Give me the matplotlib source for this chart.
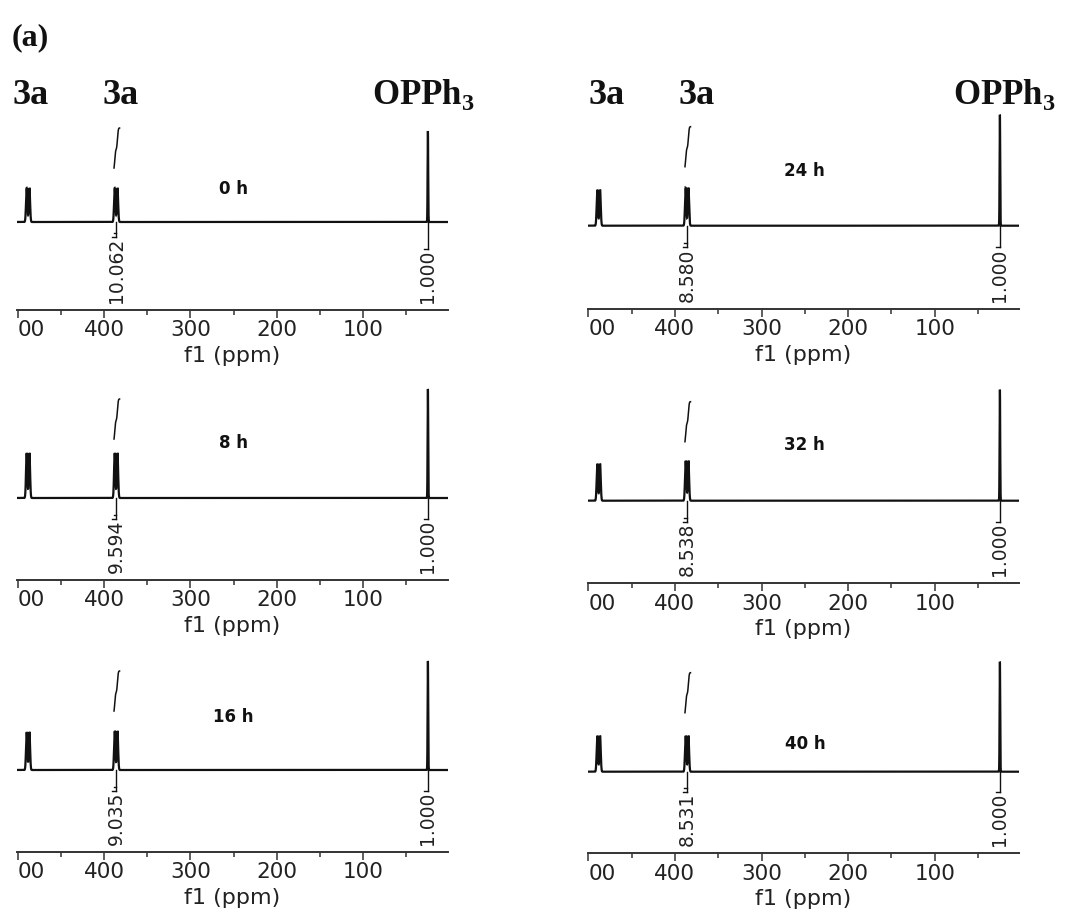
import numpy as np
import matplotlib
matplotlib.use("Agg")
import matplotlib.pyplot as plt
from matplotlib.ticker import FixedLocator

# ---- spectral data (31P NMR, reaction monitored over time) ----
times = ["0 h", "8 h", "16 h", "24 h", "32 h", "40 h"]
shift_3a_a = 488.0          # ppm, first 3a doublet
shift_3a_b = 386.0          # ppm, second 3a doublet (integrated)
shift_opph3 = 24.8          # ppm, OPPh3 internal standard
j_split = 3.2               # ppm, doublet splitting of 3a signals
height_3a_a = [34, 45, 38, 36, 37, 36]
height_3a_b = [34, 45, 39, 38, 40, 36]
height_opph3 = [91, 109, 109, 111, 111, 110]
integral_3a = [10.062, 9.594, 9.035, 8.580, 8.538, 8.531]
integral_opph3 = [1.000, 1.000, 1.000, 1.000, 1.000, 1.000]
major_ticks = [500, 400, 300, 200, 100]
major_labels = ["00", "400", "300", "200", "100"]
minor_ticks = [450, 350, 250, 150, 50]

# ---- page layout (pixels) ----
W, H, DPI = 1075, 922, 100
AX_H = 200
cols = {0: (17.0, 447.5, (500.8, 2.1)),
        1: (588.3, 1018.7, (500.0, 3.1))}
# column, y of ppm axis line, baseline height above axis line
panels = [(0, 310.0, 88.0), (0, 580.0, 82.0), (0, 852.0, 82.0),
          (1, 308.7, 83.0), (1, 583.3, 82.6), (1, 853.3, 81.6)]
time_label_y = [33, 55, 53, 55, 56, 28]
trace_lo = [54, 59, 59, 59, 59, 59]
trace_hi = [94, 99, 99, 99, 99, 99]

plt.rcParams["mathtext.fontset"] = "custom"
plt.rcParams["mathtext.rm"] = "Liberation Serif"
plt.rcParams["mathtext.bf"] = "Liberation Serif:bold"

fig = plt.figure(figsize=(W / DPI, H / DPI), dpi=DPI)


def fx(px):
    return px / W


def fy(py):
    return 1 - py / H


ppm = np.linspace(505, -5, 60001)


def line(x0, h, s):
    return h * np.exp(-0.5 * ((ppm - x0) / s) ** 2)


def doublet(x0, h, s):
    return line(x0 + j_split / 2, h, s) + line(x0 - j_split / 2, h, s)


ink = "#111111"
txt = "#222222"
axes_list = []
for i, t in enumerate(times):
    col, axis_y, off = panels[i]
    x0, x1, xl = cols[col]
    ax = fig.add_axes([fx(x0), fy(axis_y), fx(x1 - x0), AX_H / H])
    ax.set_xlim(*xl)
    ax.set_ylim(-off, AX_H - off)

    spec = (doublet(shift_3a_a, height_3a_a[i], 0.75)
            + doublet(shift_3a_b, height_3a_b[i], 0.75)
            + line(shift_opph3, height_opph3[i], 0.35))
    ax.plot(ppm, spec, color=ink, lw=1.6, solid_joinstyle="miter")

    # integral trace over the 3a region
    lo, hi = shift_3a_b - 4.0, shift_3a_b + 2.4
    m = (ppm <= hi) & (ppm >= lo)
    cum = np.cumsum(spec[m])
    cum = (cum - cum[0]) / (cum[-1] - cum[0])
    ax.plot(ppm[m], trace_lo[i] + (trace_hi[i] - trace_lo[i]) * cum,
            color=ink, lw=1.1)

    for s in ("left", "right", "top"):
        ax.spines[s].set_visible(False)
    ax.spines["bottom"].set_color("#333333")
    ax.spines["bottom"].set_linewidth(1.4)
    ax.set_yticks([])
    ax.xaxis.set_major_locator(FixedLocator(major_ticks))
    ax.xaxis.set_minor_locator(FixedLocator(minor_ticks))
    ax.set_xticklabels(major_labels)
    ax.tick_params(axis="x", which="major", direction="out", length=6,
                   width=1.1, color="#333333", labelsize=15.5,
                   labelcolor=txt, pad=1.5)
    ax.tick_params(axis="x", which="minor", direction="out", length=3.5,
                   width=1.1, color="#333333")
    ax.set_xlabel("f1 (ppm)", fontsize=16, color=txt, labelpad=4)
    # the leftmost label sits flush with the start of the axis
    ax.xaxis.get_major_ticks()[0].label1.set_horizontalalignment("left")

    ax.text(250, time_label_y[i], t, fontsize=12, fontweight="bold",
            family="DejaVu Sans", ha="center", va="center", color=ink)

    labels = []
    for pos, val in ((shift_3a_b, integral_3a[i]),
                     (shift_opph3, integral_opph3[i])):
        lab = ax.text(pos, -off + 7, f"{val:.3f}", rotation=90,
                      ha="center", va="bottom", fontsize=13.5,
                      family="DejaVu Sans", color=txt)
        labels.append((pos, lab))
    axes_list.append((ax, labels))

# integral region markers reach down to the top of each value label
fig.canvas.draw()
r = fig.canvas.get_renderer()
for ax, labels in axes_list:
    inv = ax.transData.inverted()
    for k, (pos, lab) in enumerate(labels):
        bb = lab.get_window_extent(r)
        top = inv.transform((bb.x0, bb.y1 + 1))[1]
        ax.plot([pos, pos], [0, top], color=ink, lw=1.0)
        ax.plot([pos, pos + 5], [top, top], color=ink, lw=1.0)
        if k == 0:
            ax.plot([pos, pos + 3], [top + 4, top + 4], color=ink, lw=1.0)

# header labels
serif = dict(family="Liberation Serif", fontweight="bold", color="#111111",
             va="center", ha="left")
fig.text(fx(12), fy(38), "(a)", fontsize=23, **serif)
for xs in ((12, 103, 372), (588, 678, 953)):
    fig.text(fx(xs[0]), fy(95), "3a", fontsize=26, **serif)
    fig.text(fx(xs[1]), fy(95), "3a", fontsize=26, **serif)
    fig.text(fx(xs[2]), fy(95), r"OPPh$_{\mathbf{3}}$", fontsize=25, **serif)

fig.savefig("out.png", dpi=DPI, facecolor="white")
